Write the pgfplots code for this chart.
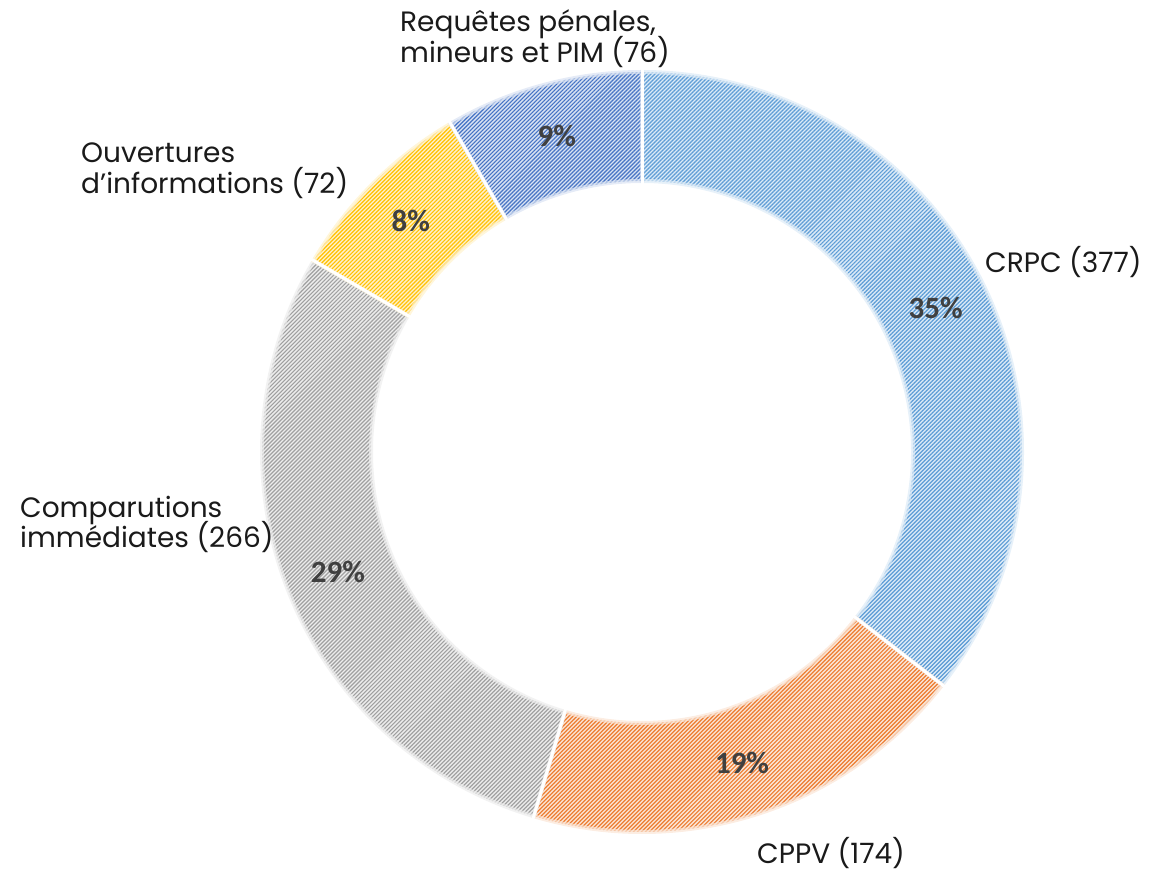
\documentclass[border=0pt]{standalone}
\usepackage{pgfplots}
\pgfplotsset{compat=1.18}
\usepackage{pgfplotstable}
\usetikzlibrary{calc,patterns.meta}
\usepackage{fontspec}
\setmainfont{Poppins}
\newfontfamily\pctfont{Carlito}

\definecolor{slice0fg}{HTML}{5B9BD5}\definecolor{slice0bg}{HTML}{DDEBF7}
\definecolor{slice1fg}{HTML}{ED7D31}\definecolor{slice1bg}{HTML}{FBE5D6}
\definecolor{slice2fg}{HTML}{A0A0A0}\definecolor{slice2bg}{HTML}{EDEDED}
\definecolor{slice3fg}{HTML}{FFC000}\definecolor{slice3bg}{HTML}{FFF2CC}
\definecolor{slice4fg}{HTML}{4472C4}\definecolor{slice4bg}{HTML}{DAE3F3}
\definecolor{pctgray}{HTML}{404040}
\definecolor{txt}{HTML}{1A1A1A}

% slice shares (%), clockwise from 12 o'clock, and printed percentage
\pgfplotstableread{
pct  lab
35.5 35
19.1 19
28.8 29
8.2  8
8.4  9
}\slices

\def\Ro{380pt}
\def\Ri{271pt}

\newcommand\drawslice[1]{%
  \path[fill=slice#1bg,
        postaction={pattern={Lines[angle=45,distance=2.83pt,line width=1.2pt]},pattern color=slice#1fg},
        postaction={draw=slice#1bg,line width=4pt,opacity=.7}]
    ($(axis cs:0,0)+(\csname sa#1\endcsname:\Ro)$)
    arc[start angle=\csname sa#1\endcsname,end angle=\csname sb#1\endcsname,radius=\Ro]
    -- ($(axis cs:0,0)+(\csname sb#1\endcsname:\Ri)$)
    arc[start angle=\csname sb#1\endcsname,end angle=\csname sa#1\endcsname,radius=\Ri]
    -- cycle;
}
\newcommand\drawsep[1]{%
  \draw[white,line width=3pt]
    ($(axis cs:0,0)+(\csname sa#1\endcsname:262pt)$) -- ($(axis cs:0,0)+(\csname sa#1\endcsname:388pt)$);
}
\newcommand\drawlabel[1]{%
  \node[font=\pctfont\bfseries\fontsize{31}{31}\selectfont,text=pctgray]
    at ($(axis cs:0,0)+(\csname sm#1\endcsname:327pt)$) {\csname lab#1\endcsname\%};
}

\begin{document}
\begin{tikzpicture}
\pgfplotstablegetrowsof{\slices}
\pgfmathtruncatemacro\lastrow{\pgfplotsretval-1}
\gdef\cum{0}
\foreach \i in {0,...,\lastrow}{%
  \pgfplotstablegetelem{\i}{pct}\of\slices
  \pgfmathsetmacro\p{\pgfplotsretval}%
  \pgfmathsetmacro\sa{90-3.6*\cum}%
  \pgfmathsetmacro\sb{90-3.6*(\cum+\p)}%
  \pgfmathsetmacro\sm{(\sa+\sb)/2}%
  \pgfplotstablegetelem{\i}{lab}\of\slices
  \expandafter\xdef\csname lab\i\endcsname{\pgfplotsretval}%
  \expandafter\xdef\csname sa\i\endcsname{\sa}%
  \expandafter\xdef\csname sb\i\endcsname{\sb}%
  \expandafter\xdef\csname sm\i\endcsname{\sm}%
  \pgfmathsetmacro\c{\cum+\p}%
  \xdef\cum{\c}%
}
\begin{axis}[x=1pt,y=1pt,xmin=-642,xmax=511,ymin=-421,ymax=452,
  hide axis,clip=false]
\path (axis cs:-642,-421) rectangle (axis cs:511,452);
\pgfplotsinvokeforeach{0,...,4}{\drawslice{#1}}
\pgfplotsinvokeforeach{0,...,4}{\drawsep{#1}}
\pgfplotsinvokeforeach{0,...,4}{\drawlabel{#1}}
\begin{scope}[every node/.style={anchor=base west,font=\fontsize{28}{31}\selectfont,text=txt,inner sep=0pt}]
\node at (axis cs:-242,420) {Requêtes pénales,};
\node at (axis cs:-242,389) {mineurs et PIM (76)};
\node at (axis cs:-561,289) {Ouvertures};
\node at (axis cs:-561,258) {d’informations (72)};
\node at (axis cs:343,179) {CRPC (377)};
\node at (axis cs:-622,-66) {Comparutions};
\node at (axis cs:-622,-96) {immédiates (266)};
\node at (axis cs:115,-411) {CPPV (174)};
\end{scope}
\end{axis}
\end{tikzpicture}
\end{document}
